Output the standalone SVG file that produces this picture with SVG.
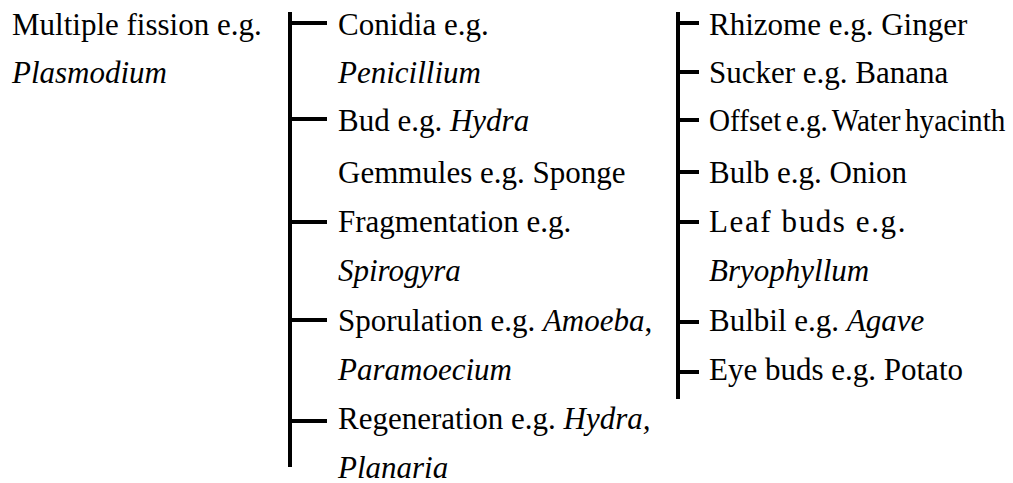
<svg xmlns="http://www.w3.org/2000/svg" width="1013" height="483" viewBox="0 0 1013 483">
<style>
text{font-family:"Liberation Serif","Times New Roman",serif;font-size:31px;fill:#000}
.i{font-style:italic}
.c{stroke:#000;stroke-width:4;fill:none}
</style>
<rect width="1013" height="483" fill="#fff"/>
<g id="connectors">
<line class="c" x1="290" y1="12" x2="290" y2="467"/>
<line class="c" x1="290" y1="23" x2="327" y2="23"/>
<line class="c" x1="290" y1="119" x2="327" y2="119"/>
<line class="c" x1="290" y1="222" x2="327" y2="222"/>
<line class="c" x1="290" y1="320" x2="327" y2="320"/>
<line class="c" x1="290" y1="421" x2="327" y2="421"/>
<line class="c" x1="678" y1="12" x2="678" y2="399"/>
<line class="c" x1="678" y1="23" x2="699" y2="23"/>
<line class="c" x1="678" y1="72" x2="699" y2="72"/>
<line class="c" x1="678" y1="120" x2="699" y2="120"/>
<line class="c" x1="678" y1="172" x2="699" y2="172"/>
<line class="c" x1="678" y1="222" x2="699" y2="222"/>
<line class="c" x1="678" y1="322" x2="699" y2="322"/>
<line class="c" x1="678" y1="372" x2="699" y2="372"/>
</g>
<g id="multiple-fission"><text x="12" y="35">Multiple fission e.g.</text><text x="12" y="83" class="i">Plasmodium</text></g>
<g id="conidia"><text x="338" y="35">Conidia e.g.</text><text x="338" y="83" class="i">Penicillium</text></g>
<g id="bud"><text x="338" y="131">Bud e.g. <tspan class="i">Hydra</tspan></text></g>
<g id="gemmules"><text x="338" y="183">Gemmules e.g. Sponge</text></g>
<g id="fragmentation"><text x="338" y="232">Fragmentation e.g.</text><text x="338" y="281" class="i">Spirogyra</text></g>
<g id="sporulation"><text x="338" y="331">Sporulation e.g. <tspan class="i">Amoeba</tspan>,</text><text x="338" y="380" class="i">Paramoecium</text></g>
<g id="regeneration"><text x="338" y="429">Regeneration e.g. <tspan class="i">Hydra,</tspan></text><text x="338" y="478" class="i">Planaria</text></g>
<g id="rhizome"><text x="709" y="35">Rhizome e.g. Ginger</text></g>
<g id="sucker"><text x="709" y="83">Sucker e.g. Banana</text></g>
<g id="offset"><text transform="translate(709 131) scale(0.94 1)" x="0" y="0" word-spacing="-3">Offset e.g. Water hyacinth</text></g>
<g id="bulb"><text x="709" y="183">Bulb e.g. Onion</text></g>
<g id="leaf-buds"><text x="709" y="232" letter-spacing="1.6">Leaf buds e.g.</text><text x="709" y="281" class="i">Bryophyllum</text></g>
<g id="bulbil"><text x="709" y="331">Bulbil e.g. <tspan class="i">Agave</tspan></text></g>
<g id="eye-buds"><text x="709" y="380">Eye buds e.g. Potato</text></g>
</svg>
